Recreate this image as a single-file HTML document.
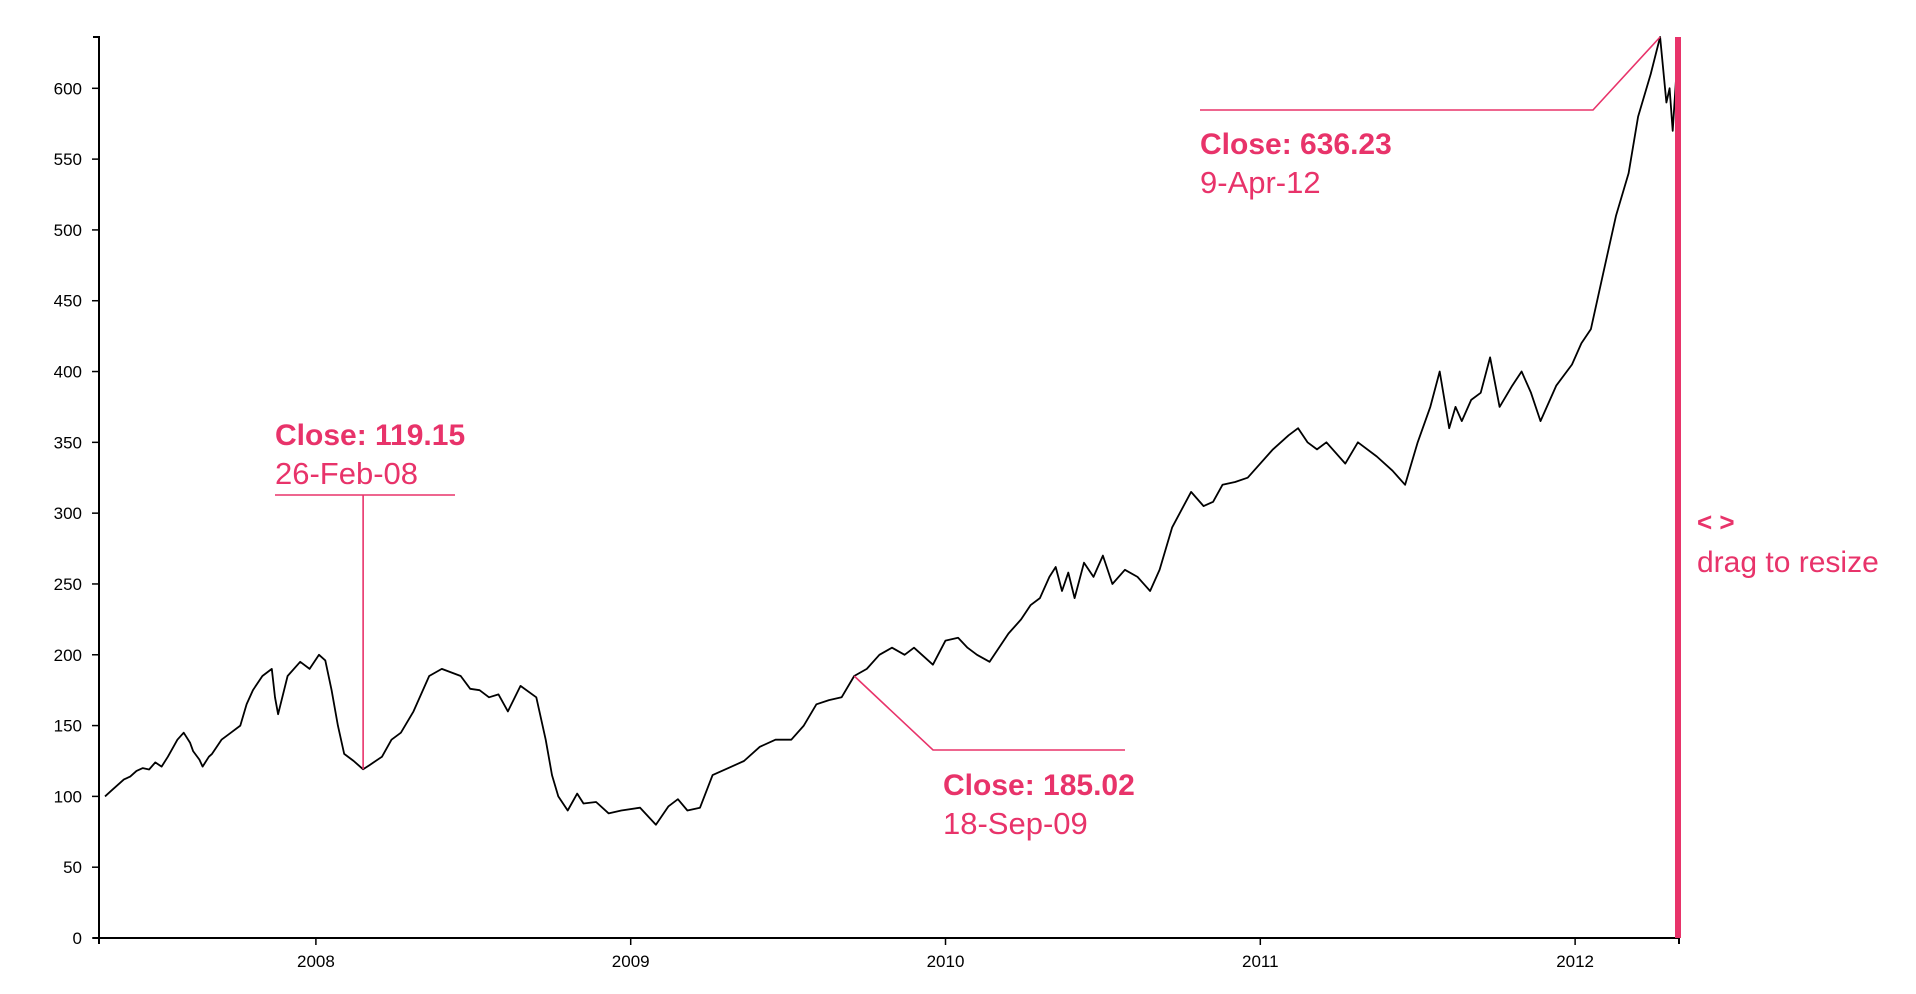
<!DOCTYPE html>
<html><head><meta charset="utf-8"><style>
body{margin:0;background:#fff;}
svg{display:block;font-family:"Liberation Sans",sans-serif;}
.tick text{font-size:17px;fill:#000;}
</style></head><body>
<svg id="chart" width="1916" height="994" viewBox="0 0 1916 994"></svg>
<script>
const dates=[2007.33,2007.35,2007.37,2007.39,2007.41,2007.43,2007.45,2007.47,2007.49,2007.51,2007.53,2007.55,2007.56,2007.58,2007.60,2007.61,2007.63,2007.64,2007.66,2007.67,2007.70,2007.73,2007.76,2007.78,2007.80,2007.83,2007.86,2007.87,2007.88,2007.91,2007.95,2007.98,2008.01,2008.03,2008.05,2008.07,2008.09,2008.12,2008.15,2008.17,2008.21,2008.24,2008.27,2008.31,2008.36,2008.40,2008.46,2008.49,2008.52,2008.55,2008.58,2008.61,2008.65,2008.70,2008.73,2008.75,2008.77,2008.80,2008.83,2008.85,2008.89,2008.93,2008.97,2009.03,2009.08,2009.12,2009.15,2009.18,2009.22,2009.26,2009.31,2009.36,2009.41,2009.46,2009.51,2009.55,2009.59,2009.63,2009.67,2009.71,2009.75,2009.79,2009.83,2009.87,2009.90,2009.96,2010.00,2010.04,2010.07,2010.10,2010.14,2010.20,2010.24,2010.27,2010.30,2010.33,2010.35,2010.37,2010.39,2010.41,2010.44,2010.47,2010.50,2010.53,2010.57,2010.61,2010.65,2010.68,2010.72,2010.78,2010.82,2010.85,2010.88,2010.92,2010.96,2011.04,2011.09,2011.12,2011.15,2011.18,2011.21,2011.27,2011.31,2011.37,2011.42,2011.46,2011.50,2011.54,2011.57,2011.60,2011.62,2011.64,2011.67,2011.70,2011.73,2011.76,2011.80,2011.83,2011.86,2011.89,2011.94,2011.99,2012.02,2012.05,2012.09,2012.13,2012.17,2012.20,2012.24,2012.27,2012.29,2012.30,2012.31,2012.32,2012.33];
const closes=[100,104,108,112,114,118,120,119,124,121,128,136,140,145,138,132,126,121,128,130,140,145,150,165,175,185,190,170,158,185,195,190,200,196,175,150,130,125,119.15,122,128,140,145,160,185,190,185,176,175,170,172,160,178,170,140,115,100,90,102,95,96,88,90,92,80,93,98,90,92,115,120,125,135,140,140,150,165,168,170,185.02,190,200,205,200,205,193,210,212,205,200,195,215,225,235,240,255,262,245,258,240,265,255,270,250,260,255,245,260,290,315,305,308,320,322,325,345,355,360,350,345,350,335,350,340,330,320,350,375,400,360,375,365,380,385,410,375,390,400,385,365,390,405,420,430,470,510,540,580,610,636.23,590,600,570,605,565];
const yTicks=[0,50,100,150,200,250,300,350,400,450,500,550,600];
const xTicks=[2008,2009,2010,2011,2012];
const xTickLabels=["2008","2009","2010","2011","2012"];
const annDates=[2008.15,2009.71,2012.27];
const annValues=[119.15,185.02,636.23];
const annLabels=["26-Feb-08","18-Sep-09","9-Apr-12"];

const NS="http://www.w3.org/2000/svg";
const svg=document.getElementById('chart');
const X0=99,X1=1679,Y0=938,Y1=37,T0=2007.311,T1=2012.33,VMAX=636.23;
const x=t=>X0+(t-T0)/(T1-T0)*(X1-X0);
const y=v=>Y0-v/VMAX*(Y0-Y1);
function mk(tag,attrs,parent){const e=document.createElementNS(NS,tag);for(const k in attrs)e.setAttribute(k,attrs[k]);(parent||svg).appendChild(e);return e;}
const PINK="#e8336a";

const ya=mk('g',{});


mk('path',{d:`M${X0-6},${Y1}H${X0}V${Y0}H${X0-6}`,stroke:'#000','stroke-width':2,fill:'none'},ya);
yTicks.forEach(v=>{const g=mk('g',{class:'tick'},ya);


mk('line',{x1:X0-7,x2:X0,y1:y(v),y2:y(v),stroke:'#000','stroke-width':1.5},g);
const t=mk('text',{x:X0-17,y:y(v)+6,'text-anchor':'end'},g);t.textContent=v;});
const xa=mk('g',{});


mk('path',{d:`M${X0},${Y0+6}V${Y0}H${X1}V${Y0+6}`,stroke:'#000','stroke-width':2,fill:'none'},xa);
xTicks.forEach((t,i)=>{const g=mk('g',{class:'tick'},xa);


mk('line',{x1:x(t),x2:x(t),y1:Y0,y2:Y0+7,stroke:'#000','stroke-width':1.5},g);
const tx=mk('text',{x:x(t),y:Y0+29,'text-anchor':'middle'},g);tx.textContent=xTickLabels[i];});

let d='';dates.forEach((t,i)=>{d+=(i?'L':'M')+x(t).toFixed(1)+','+y(closes[i]).toFixed(1);});
const ln=mk('path',{d:d,fill:'none',stroke:'#000','stroke-width':1.8,'stroke-linejoin':'round'});



function ann(i,path,tx,ty){const g=mk('g',{});


mk('path',{d:path,fill:'none',stroke:PINK,'stroke-width':1.6},g);
const a=mk('text',{x:tx,y:ty,fill:PINK,'font-size':30,'font-weight':'bold'},g);a.textContent='Close: '+annValues[i];
const b=mk('text',{x:tx,y:ty+39,fill:PINK,'font-size':31,'font-weight':'300'},g);b.textContent=annLabels[i];}
{const px=x(annDates[0]),py=y(annValues[0]);ann(0,`M${px},${py}V495M275,495H455`,275,445);}
{const px=x(annDates[1]),py=y(annValues[1]);ann(1,`M${px},${py}L933,750H1125`,943,795);}
{const px=x(annDates[2]),py=y(annValues[2]);ann(2,`M${px},${py}L1593,110H1200`,1200,154);}

const h=mk('rect',{x:1675,y:Y1,width:6,height:Y0-Y1,fill:PINK});


const ar=mk('text',{x:1697,y:531,fill:PINK,'font-size':26,'font-weight':'bold'});ar.textContent='< >';


const rt=mk('text',{x:1697,y:572,fill:PINK,'font-size':30,'font-weight':'300'});rt.textContent='drag to resize';


</script>
</body></html>
